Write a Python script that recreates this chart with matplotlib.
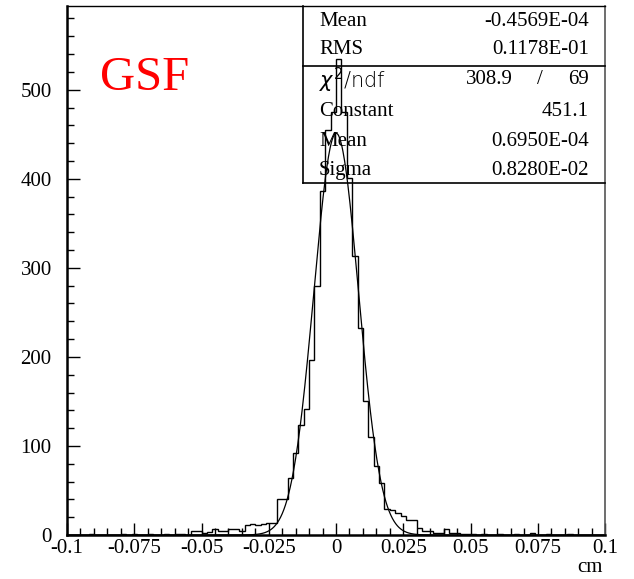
import numpy as np
import matplotlib.pyplot as plt
from matplotlib.ticker import MultipleLocator

# histogram contents, 100 bins of 0.002 cm from -0.1 to 0.1
counts = [0, 0, 0, 0, 1, 0, 0, 0, 0, 0, 1, 0, 1, 0, 0, 1, 0, 0, 1, 0, 1, 1, 0,
          4, 4, 2, 3, 7, 5, 5, 7, 7, 4, 11, 12, 11, 12, 13, 13,
          40, 40, 64, 92, 124, 142, 197, 280, 386, 455, 475,
          534,
          475, 401, 313, 232, 151, 110, 78, 58, 29, 28, 25, 21, 17, 17, 8, 5,
          5, 2, 2, 7, 2, 2, 1, 1,
          1, 0, 1, 0, 0, 1, 0, 0, 1, 0, 0, 2, 0, 0, 1, 0, 0, 0, 1, 0, 0, 0, 0, 0, 0]
xmin, xmax, nbins = -0.1, 0.1, 100

# gaussian fit result
fit_const = 451.1
fit_mean = 0.6950E-04
fit_sigma = 0.8280E-02

xtick_vals = [-0.1, -0.075, -0.05, -0.025, 0, 0.025, 0.05, 0.075, 0.1]
xtick_labels = ['-0.1', '-0.075', '-0.05', '-0.025', '0', '0.025', '0.05', '0.075', '0.1']
ytick_vals = [0, 100, 200, 300, 400, 500]

stat_rows = [('Mean', '-0.4569E-04'), ('RMS', '0.1178E-01')]
fit_rows = [('Constant', '451.1'), ('Mean', '0.6950E-04'), ('Sigma', '0.8280E-02')]
chi2, ndf = '308.9', '69'

W, H = 634, 579
serif = 'Liberation Serif'
fs = 15

fig = plt.figure(figsize=(W / 100, H / 100), dpi=100)
ax = fig.add_axes([67 / W, 1 - 535 / H, (605 - 67) / W, (535 - 6) / H])

edges = np.linspace(xmin, xmax, nbins + 1)
ax.stairs(counts, edges, color='k', lw=1.0)

xf = np.linspace(xmin, xmax, 1001)
yf = fit_const * np.exp(-0.5 * ((xf - fit_mean) / fit_sigma) ** 2)
ax.plot(xf, yf, color='k', lw=0.9)

ax.set_xlim(xmin, xmax)
ax.set_ylim(0, 594)

ax.set_xticks(xtick_vals)
ax.set_xticklabels(xtick_labels)
ax.set_yticks(ytick_vals)
ax.xaxis.set_minor_locator(MultipleLocator(0.005))
ax.yaxis.set_minor_locator(MultipleLocator(20))
ax.tick_params(which='both', direction='in', top=False, right=False, width=1.0)
ax.tick_params(which='major', length=9)
ax.tick_params(which='minor', length=5)
ax.tick_params(axis='x', which='major', pad=3)
ax.tick_params(axis='y', which='major', pad=11)
for lab in ax.get_xticklabels() + ax.get_yticklabels():
    lab.set_fontfamily(serif)
    lab.set_fontsize(fs)

ax.spines['left'].set_linewidth(1.8)
ax.spines['bottom'].set_linewidth(1.8)
ax.spines['right'].set_linewidth(1.2)
ax.spines['right'].set_color('#555555')
ax.spines['top'].set_linewidth(1.0)


def fx(px):
    return px / W


def fy(py):
    return 1 - py / H


fig.text(fx(590), fy(568), 'cm', family=serif, fontsize=fs, ha='center', va='center')
fig.text(fx(100), fy(78), 'GSF', family=serif, fontsize=35, color='red', ha='left', va='center')

# stats box (not filled, histogram shows through)
bx0, bx1, by0, bsep, by1 = 303, 605, 6, 66, 183
fig.add_artist(plt.Line2D([fx(bx0), fx(bx0)], [fy(by0), fy(by1)], color='k', lw=1.2))
fig.add_artist(plt.Line2D([fx(bx0), fx(bx1)], [fy(by1), fy(by1)], color='k', lw=1.2))
fig.add_artist(plt.Line2D([fx(bx0), fx(bx1)], [fy(bsep), fy(bsep)], color='k', lw=1.2))

row_y = [22, 50, 80, 111, 141, 170]
lx, rx = 319, 589
for (name, val), yy in zip(stat_rows, row_y[:2]):
    fig.text(fx(lx), fy(yy), name, family=serif, fontsize=fs, ha='left', va='center')
    fig.text(fx(rx), fy(yy), val, family=serif, fontsize=fs, ha='right', va='center')

fig.text(fx(lx), fy(row_y[2]), r'$\chi^2$/ndf', family='DejaVu Sans', fontsize=15,
         fontweight='light', ha='left', va='center', color='k')
fig.text(fx(513), fy(row_y[2]), chi2, family=serif, fontsize=fs, ha='right', va='center')
fig.text(fx(540), fy(row_y[2]), '/', family=serif, fontsize=fs, ha='center', va='center')
fig.text(fx(rx), fy(row_y[2]), ndf, family=serif, fontsize=fs, ha='right', va='center')

for (name, val), yy in zip(fit_rows, row_y[3:]):
    fig.text(fx(lx), fy(yy), name, family=serif, fontsize=fs, ha='left', va='center')
    fig.text(fx(rx), fy(yy), val, family=serif, fontsize=fs, ha='right', va='center')

fig.savefig('out.png', dpi=100)
